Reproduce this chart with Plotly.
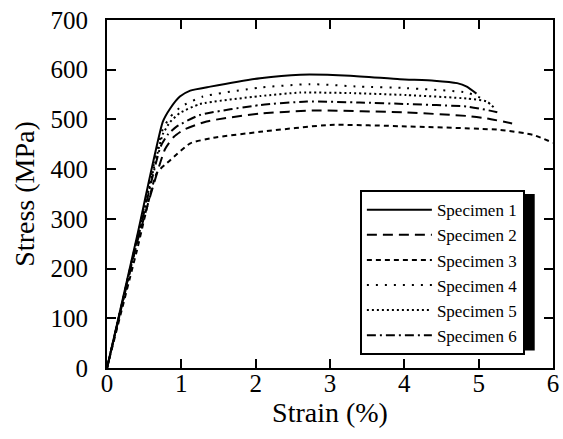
import plotly.graph_objects as go

# ---- data ----
s1_strain = [0, 0.4, 0.75, 0.85, 0.98, 1.12, 1.39, 2.06, 2.6, 3.27, 3.94, 4.4, 4.71, 4.84, 4.97]
s1_stress = [0, 262, 495, 522, 546, 558, 566, 583, 590, 588, 581, 578, 573, 566, 552]

s2_strain = [0, 0.4, 0.78, 0.9, 1.03, 1.34, 2.06, 2.82, 4.03, 4.84, 5.11, 5.45]
s2_stress = [0, 250, 440, 465, 479, 496, 512, 518, 514, 507, 502, 492]

s3_strain = [0, 0.4, 0.67, 0.85, 1.12, 1.43, 2.06, 3.0, 4.03, 5.29, 5.73, 6.0]
s3_stress = [0, 235, 392, 418, 452, 463, 475, 489, 486, 479, 469, 453]

s4_strain = [0, 0.4, 0.75, 0.85, 1.0, 1.29, 2.06, 2.73, 3.4, 4.03, 4.84, 5.05]
s4_stress = [0, 258, 480, 505, 526, 546, 564, 571, 566, 563, 554, 542]

s5_strain = [0, 0.4, 0.75, 0.85, 0.98, 1.25, 2.06, 2.6, 3.27, 4.03, 4.84, 5.11, 5.22]
s5_stress = [0, 255, 470, 495, 513, 531, 547, 554, 553, 549, 542, 536, 522]

s6_strain = [0, 0.4, 0.72, 0.82, 0.94, 1.25, 2.06, 2.69, 3.4, 4.03, 4.84, 5.11, 5.29]
s6_stress = [0, 250, 445, 470, 486, 509, 529, 536, 534, 531, 526, 519, 513]

names = ["Specimen 1", "Specimen 2", "Specimen 3", "Specimen 4", "Specimen 5", "Specimen 6"]
x_ticks = [0, 1, 2, 3, 4, 5, 6]
y_ticks = [0, 100, 200, 300, 400, 500, 600, 700]

series = [(s1_strain, s1_stress), (s2_strain, s2_stress), (s3_strain, s3_stress),
          (s4_strain, s4_stress), (s5_strain, s5_stress), (s6_strain, s6_stress)]
dashes = ["solid", "10px,6px", "5px,4px", "2px,7px", "2px,3px", "9px,4px,2px,4px"]

FONT = "Liberation Serif, Times New Roman, Times, serif"

fig = go.Figure()
for (xs, ys), nm, d in zip(series, names, dashes):
    fig.add_trace(go.Scatter(x=xs, y=ys, name=nm, mode="lines",
                             line=dict(color="black", width=2, dash=d,
                                       shape="spline", smoothing=0.5)))

axis_common = dict(showline=True, linecolor="black", linewidth=2, mirror="ticks",
                   ticks="inside", ticklen=9, tickwidth=2, tickcolor="black",
                   showgrid=False, zeroline=False, automargin=False,
                   tickfont=dict(family=FONT, size=25, color="black"))

fig.update_xaxes(range=[0, 6], tickvals=x_ticks, ticktext=[str(v) for v in x_ticks],
                 title=dict(text="Strain (%)", font=dict(family=FONT, size=28, color="black"),
                            standoff=0),
                 ticklabelstandoff=-8,
                 **axis_common)
fig.update_yaxes(range=[0, 700], tickvals=y_ticks, ticktext=[str(v) for v in y_ticks],
                 title=dict(text="Stress (MPa)", font=dict(family=FONT, size=28, color="black"),
                            standoff=8),
                 ticklabelstandoff=12,
                 **axis_common)

# legend shadow (paper coords)
fig.add_shape(type="rect", xref="paper", yref="paper",
              x0=0.576, x1=0.959, y0=0.050, y1=0.50,
              fillcolor="black", line=dict(width=0), layer="below")

fig.update_layout(
    width=563, height=439,
    margin=dict(l=107, r=10, t=20, b=71),
    paper_bgcolor="white", plot_bgcolor="white",
    font=dict(family=FONT, color="black"),
    legend=dict(x=0.567, y=0.511, xanchor="left", yanchor="top",
                bgcolor="white", bordercolor="black", borderwidth=2,
                font=dict(family=FONT, size=17, color="black"),
                itemwidth=65, tracegroupgap=0),
)

fig.write_html("out.html", config={"displayModeBar": False},
               post_script="document.body.style.margin='0';document.body.style.overflow='hidden';")
